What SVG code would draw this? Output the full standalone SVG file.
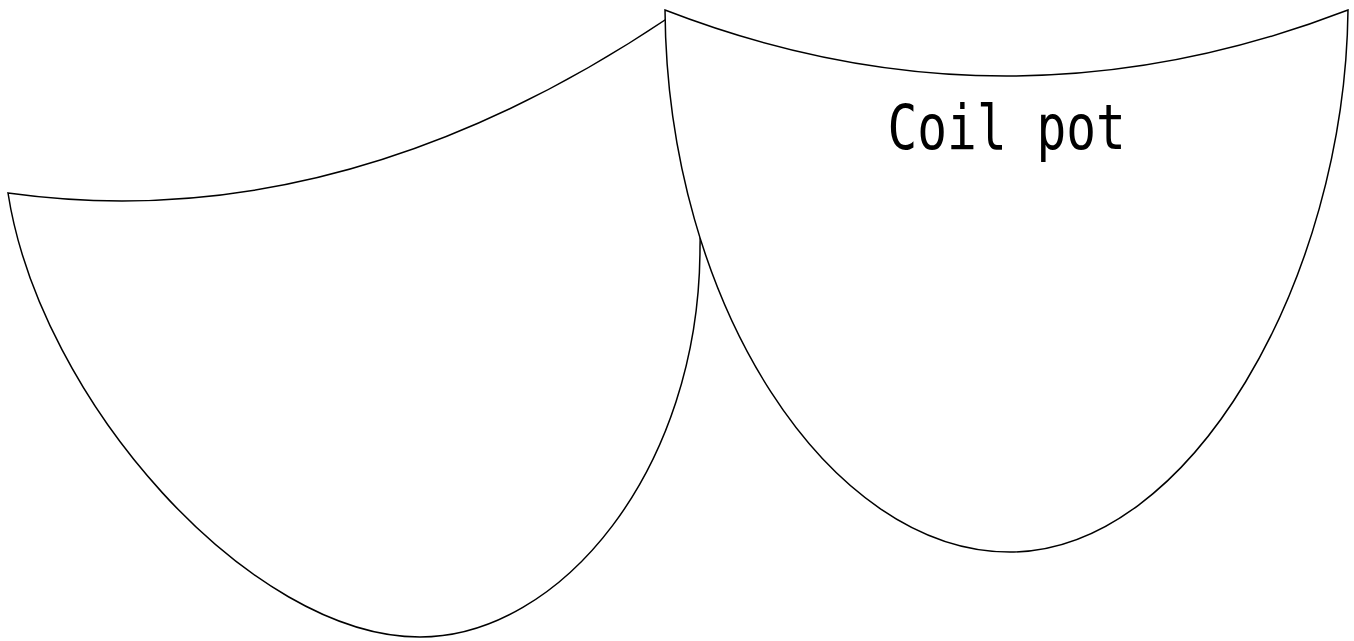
<svg xmlns="http://www.w3.org/2000/svg" width="1354" height="641" viewBox="0 0 1354 641">
  <style>
    .bowl { fill: #ffffff; stroke: #000000; stroke-width: 1.5; stroke-linejoin: miter; }
    .label { font-family: "DejaVu Sans Mono", "Liberation Mono", monospace; font-size: 49.5px; fill: #000000; }
  </style>
  <rect width="1354" height="641" fill="#ffffff"/>
  <g id="bowl-left">
    <path class="bowl" d="M8,193 Q339,239 668,18 C690,60 703,150 700,247 C700,470 560,637 420,637 C250,637 40,400 8,193 Z"/>
  </g>
  <g id="bowl-right">
    <path class="bowl" d="M665,10 Q1006,142 1348,10 C1345,280 1190,552 1010,552 C830,552 667,305 665,10 Z"/>
    <text class="label" transform="translate(887.5,149) scale(1,1.27)">Coil pot</text>
  </g>
  <g id="connectors"></g>
</svg>
